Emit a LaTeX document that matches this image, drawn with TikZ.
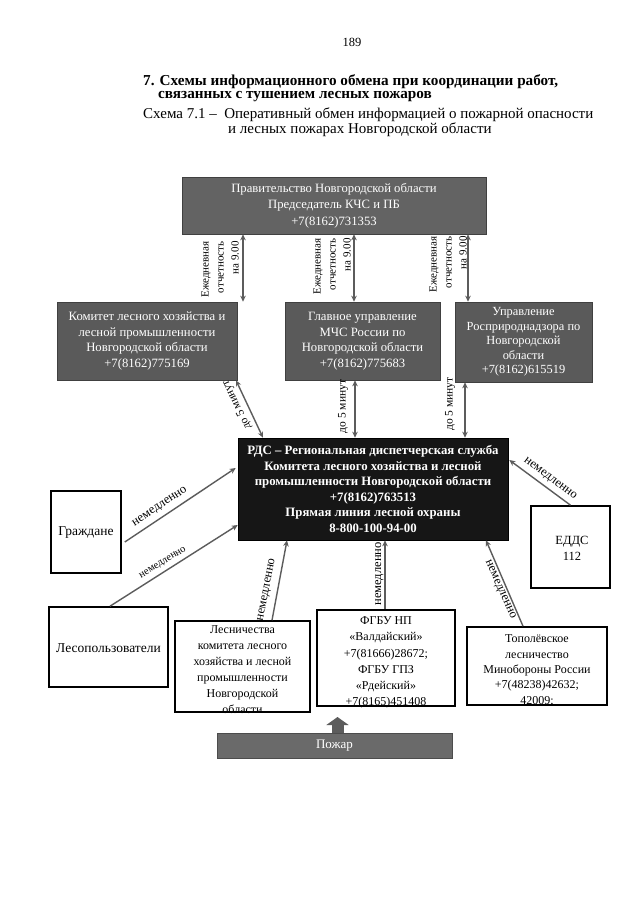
\documentclass[tikz,border=0pt]{standalone}
\usepackage{fontspec}
\setmainfont{Liberation Serif}
\usetikzlibrary{arrows.meta}
\definecolor{govgray}{HTML}{636363}
\definecolor{midgray}{HTML}{5A5A5A}
\definecolor{rdsblack}{HTML}{161616}
\definecolor{firegray}{HTML}{6A6A6A}
\definecolor{arrowgray}{HTML}{5C5C5C}
\begin{document}
\begin{tikzpicture}[x=1pt,y=-1pt,
  darkbox/.style={draw=black!75, line width=0.6pt, fill=midgray, text=white, align=center, inner sep=0pt, font=\fontsize{12.7}{15.5}\selectfont},
  rdsbox/.style={draw=black, line width=0.6pt, fill=rdsblack, text=white, align=center, inner sep=0pt, font=\bfseries\fontsize{12.8}{15.5}\selectfont},
  wbox/.style={draw=black, line width=1.6pt, fill=white, inner sep=0pt},
  boxtext/.style={align=center, inner sep=0pt, font=\fontsize{12}{16}\selectfont},
  dblarrow/.style={draw=arrowgray, line width=1.4pt, {Stealth[length=6pt,width=5.5pt]}-{Stealth[length=6pt,width=5.5pt]}},
  onearrow/.style={draw=arrowgray, line width=1.4pt, -{Stealth[length=6pt,width=5.5pt]}},
  firearrow/.style={draw=arrowgray, line width=12pt, -{Triangle[width=22pt,length=8pt]}},
  dailylbl/.style={align=right, inner sep=0pt, rotate=90, font=\fontsize{11}{15}\selectfont},
  minlbl/.style={inner sep=0pt, font=\fontsize{11.5}{12}\selectfont},
  nowlbl/.style={inner sep=0pt, font=\fontsize{12.5}{13}\selectfont}
]
\useasboundingbox (0,0) rectangle (640,905);
\fill[white] (0,0) rectangle (640,905);

% header
\node[inner sep=0pt, font=\fontsize{12.5}{14}\selectfont] (pnum) at (352,42) {189};
\node[anchor=west, inner sep=0pt, font=\bfseries\fontsize{15.2}{15}\selectfont] (t1) at (143,82) {7. Схемы информационного обмена при координации работ,};
\node[anchor=west, inner sep=0pt, font=\bfseries\fontsize{15.2}{15}\selectfont] (t2) at (158,97) {связанных с тушением лесных пожаров};
\node[anchor=west, inner sep=0pt, font=\fontsize{15}{15}\selectfont] (s1) at (143,115) {Схема 7.1 –\ \ Оперативный обмен информацией о пожарной опасности};
\node[anchor=west, inner sep=0pt, font=\fontsize{15}{15}\selectfont] (s2) at (228,130) {и лесных пожарах Новгородской области};

% top box
\node[darkbox, fill=govgray, minimum width=304pt, minimum height=57pt, font=\fontsize{12.7}{16.5}\selectfont] (gov) at (334,205.5)
  {Правительство Новгородской области\\Председатель КЧС и ПБ\\+7(8162)731353};

% middle row
\node[darkbox, minimum width=180pt, minimum height=78pt] (kom) at (147,341)
  {Комитет лесного хозяйства и\\лесной промышленности\\Новгородской области\\+7(8162)775169};
\node[darkbox, minimum width=155pt, minimum height=78pt] (mchs) at (362.5,341)
  {Главное управление\\МЧС России по\\Новгородской области\\+7(8162)775683};
\node[darkbox, minimum width=137pt, minimum height=80pt, font=\fontsize{12.4}{14.6}\selectfont] (rpn) at (523.5,342)
  {Управление\\Росприроднадзора по\\Новгородской\\области\\+7(8162)615519};

% RDS
\node[rdsbox, minimum width=270pt, minimum height=102pt] (rds) at (373,489)
  {РДС – Региональная диспетчерская служба\\Комитета лесного хозяйства и лесной\\промышленности Новгородской области\\+7(8162)763513\\Прямая линия лесной охраны\\8-800-100-94-00};

% white boxes
\node[wbox, minimum width=70pt, minimum height=82pt] (grazh) at (86,532) {};
\node[boxtext, font=\fontsize{13.5}{16}\selectfont] (grazhT) at (86,533) {Граждане};
\node[wbox, minimum width=119pt, minimum height=80pt] (lesop) at (108.5,647) {};
\node[boxtext, font=\fontsize{13.5}{16}\selectfont] (lesopT) at (108.5,648) {Лесопользователи};
\node[wbox, minimum width=79pt, minimum height=82pt] (eddc) at (570.5,547) {};
\node[boxtext, font=\fontsize{12.5}{16}\selectfont] (eddcT) at (572,548) {ЕДДС\\112};
\node[wbox, minimum width=135pt, minimum height=91pt] (lesn) at (242.5,666.5) {};
\node[boxtext] (lesnT) at (242.5,670) {Лесничества\\комитета лесного\\хозяйства и лесной\\промышленности\\Новгородской\\области};
\node[wbox, minimum width=138pt, minimum height=96pt] (fgbu) at (386,658) {};
\node[boxtext, font=\fontsize{12}{16.2}\selectfont] (fgbuT) at (386,662.5) {ФГБУ НП\\«Валдайский»\\+7(81666)28672;\\ФГБУ ГПЗ\\«Рдейский»\\+7(8165)451408};
\node[wbox, minimum width=140pt, minimum height=78pt] (topol) at (537,666) {};
\node[boxtext, font=\fontsize{12}{15.3}\selectfont] (topolT) at (537,670.5) {Тополёвское\\лесничество\\Минобороны России\\+7(48238)42632;\\42009;};

% fire
\node[draw=black!70, line width=0.6pt, fill=firegray, text=white, inner sep=0pt, minimum width=235pt, minimum height=25pt, font=\fontsize{13}{14}\selectfont] (fire) at (334.5,745.5) {Пожар};
\coordinate (firetip) at (337.5,717);
\draw[firearrow] ([xshift=3pt]fire.north) -- (firetip);

% top double arrows
\draw[dblarrow] ([xshift=-91pt]gov.south) -- ([xshift=96pt]kom.north);
\draw[dblarrow] ([xshift=20pt]gov.south) -- ([xshift=-8.5pt]mchs.north);
\draw[dblarrow] ([xshift=134pt]gov.south) -- ([xshift=-55.5pt]rpn.north);
\node[dailylbl] (d1) at (220,269.5) {Ежедневная\\отчетность\\на 9.00};
\node[dailylbl] (d2) at (332,266.5) {Ежедневная\\отчетность\\на 9.00};
\node[dailylbl] (d3) at (448,264.5) {Ежедневная\\отчетность\\на 9.00};

% middle double arrows
\draw[dblarrow] ([xshift=89pt]kom.south) -- ([xshift=-110pt]rds.north);
\draw[dblarrow] ([xshift=-7.5pt]mchs.south) -- ([xshift=-18pt]rds.north);
\draw[dblarrow] ([xshift=-58.5pt]rpn.south) -- ([xshift=92pt]rds.north);
\node[minlbl, rotate=116] (m1) at (237,405) {до 5 минут};
\node[minlbl, rotate=90] (m2) at (343,406.5) {до 5 минут};
\node[minlbl, rotate=90] (m3) at (450,404) {до 5 минут};

% single arrows to RDS
\draw[onearrow] ([xshift=3pt,yshift=-10pt]grazh.east) -- ([xshift=-2pt,yshift=21pt]rds.west);
\draw[onearrow] ([xshift=1.5pt]lesop.north) -- ([yshift=-36pt]rds.west);
\draw[onearrow] (eddc.north) -- ([xshift=1pt,yshift=29pt]rds.east);
\draw[onearrow] ([xshift=29.5pt]lesn.north) -- ([xshift=-86pt]rds.south);
\draw[onearrow] ([xshift=-1pt]fgbu.north) -- ([xshift=12pt]rds.south);
\draw[onearrow] ([xshift=-14pt]topol.north) -- ([xshift=113pt]rds.south);
\node[nowlbl, rotate=33.7] (n1) at (160,507) {немедленно};
\node[nowlbl, rotate=31.5, font=\fontsize{10.5}{11}\selectfont] (n2) at (163,563) {немедленно};
\node[nowlbl, rotate=-36.9] (n3) at (550,479) {немедленно};
\node[nowlbl, rotate=79] (n4) at (267,590) {немедленно};
\node[nowlbl, rotate=90] (n5) at (379.5,574) {немедленно};
\node[nowlbl, rotate=-66] (n6) at (500,590) {немедленно};
\end{tikzpicture}
\end{document}
